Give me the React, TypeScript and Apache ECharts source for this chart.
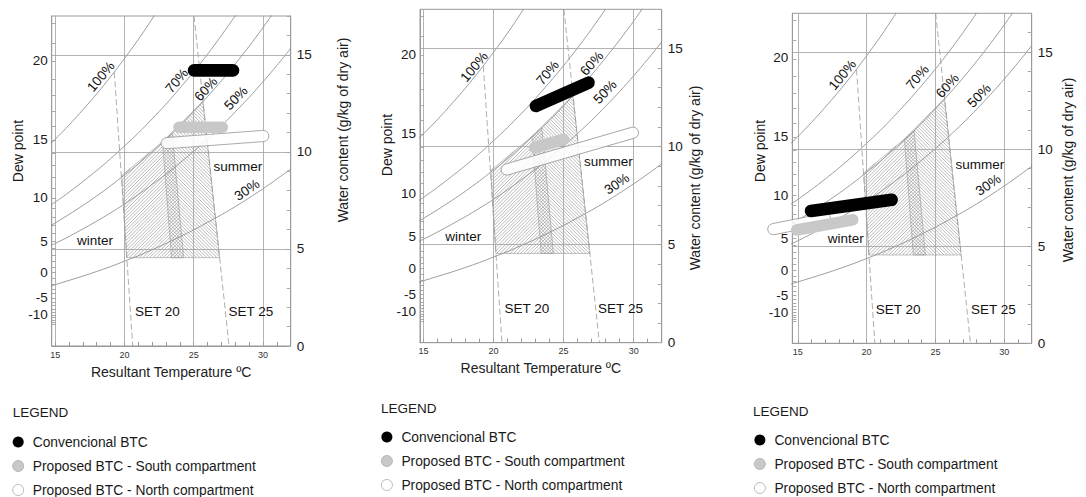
import React, { useEffect, useRef } from "react";
import * as echarts from "echarts";

// Dry-bulb (resultant) temperatures for the relative-humidity curves
const TEMPS = [14, 15, 16, 17, 18, 19, 20, 21, 22, 23, 24, 25, 26, 27, 28, 29, 30, 31, 32];
// Water content (g/kg dry air)
const RH100 = [9.96, 10.65, 11.38, 12.17, 12.99, 13.87, 14.81, 15.79, 16.85, 17.95];
const RH70 = [6.94, 7.41, 7.92, 8.47, 9.04, 9.65, 10.3, 10.97, 11.7, 12.46, 13.28, 14.13, 15.03, 16.0, 17.02, 18.08];
const RH60 = [5.94, 6.34, 6.78, 7.24, 7.73, 8.25, 8.81, 9.38, 10.0, 10.65, 11.34, 12.08, 12.85, 13.66, 14.53, 15.44, 16.4, 17.42];
const RH50 = [4.94, 5.28, 5.64, 6.03, 6.43, 6.86, 7.31, 7.8, 8.32, 8.85, 9.43, 10.03, 10.67, 11.34, 12.06, 12.81, 13.61, 14.45, 15.33];
const RH30 = [2.96, 3.16, 3.38, 3.6, 3.84, 4.09, 4.37, 4.65, 4.96, 5.28, 5.63, 5.98, 6.37, 6.76, 7.18, 7.63, 8.1, 8.6, 9.12];

// SET lines [T, W]
const SET20 = [[19.27, 14.1], [20.6, 0]];
const SET25 = [[25.02, 17], [27.55, 0]];

// Comfort zones [T, W]
const WINTER_ZONE = [[20.17, 4.55], [19.8, 8.78], [23.45, 10.94], [24.27, 4.55]];
const SUMMER_ZONE = [[23.4, 4.55], [22.75, 10.52], [25.66, 12.6], [26.87, 4.55]];

// Measured ranges [T1, W1, T2, W2]
const P1_CONV = [25.02, 14.2, 27.84, 14.2];
const P1_SOUTH = [23.93, 11.27, 27.07, 11.27];
const P1_NORTH = [23.05, 10.45, 30.02, 10.82];
const P2_CONV = [23.02, 12.07, 26.78, 13.26];
const P2_SOUTH = [22.92, 9.95, 25.0, 10.37];
const P2_NORTH = [20.94, 8.83, 29.95, 10.71];
const P3_CONV = [15.96, 6.82, 21.82, 7.39];
const P3_SOUTH = [14.92, 5.84, 18.99, 6.36];
const P3_NORTH = [13.22, 5.88, 16.98, 6.41];

// Dew point axis labels and where they fall on the water-content scale
const DEW_LABELS = ["20", "15", "10", "5", "0", "-5", "-10"];
const DEW_W = [14.7, 10.65, 7.63, 5.4, 3.77, 2.48, 1.6];

const X_LABELS = [15, 20, 25, 30];
const X_TICKS = [15, 16, 17, 18, 19, 20, 21, 22, 23, 24, 25, 26, 27, 28, 29, 30, 31, 32];
const W_LABELS = [0, 5, 10, 15];
const W_TICKS = [0, 1, 2, 3, 4, 5, 6, 7, 8, 9, 10, 11, 12, 13, 14, 15, 16, 17];
const GRID_X = [15, 20, 25, 30];
const GRID_Y = [5, 10, 15];

const NOTE_TEXTS = ["100%", "70%", "60%", "50%", "30%", "summer", "winter", "SET 20", "SET 25"];
const NOTE_ROT = [50, 50, 48, 46, 34, 0, 0, 0, 0];
const P1_NOTES = [[18.3, 13.88], [23.78, 13.67], [25.88, 13.24], [28.05, 12.77], [28.84, 8.04], [28.18, 9.24], [17.88, 5.42], [22.37, 1.77], [29.13, 1.77]];
const P2_NOTES = [[18.62, 14.07], [23.86, 13.77], [27.01, 14.24], [27.96, 12.79], [28.8, 8.1], [28.2, 9.25], [17.84, 5.42], [22.37, 1.76], [29.06, 1.76]];
const P3_NOTES = [[18.25, 13.83], [23.7, 13.7], [25.88, 13.27], [28.18, 12.76], [28.84, 8.16], [28.24, 9.19], [18.49, 5.41], [22.3, 1.76], [29.21, 1.76]];

const NAMES = ["Convencional BTC", "Proposed BTC - South compartment", "Proposed BTC - North compartment"];

const FONT = "'Liberation Sans', Arial, sans-serif";

function dewToW(td: number) {
  const es = td >= 0
    ? 0.6112 * Math.exp((17.62 * td) / (243.12 + td))
    : 0.6112 * Math.exp((22.46 * td) / (272.62 + td));
  return (622 * es) / (101.325 - es);
}
const DEW_TICKS: number[] = [];
for (let d = -14; d <= 22; d++) {
  const w = dewToW(d);
  if (w <= 17) DEW_TICKS.push(w);
}

const PANELS = [
  { left: 51.7, top: 16, width: 239, height: 330, xMin: 14.75, xName: true, nameGap: 19, dew: [18.3, 151], water: [342.5, 130], legend: [12.3, 435], legTitle: [12.7, 412],
    conv: P1_CONV, south: P1_SOUTH, north: P1_NORTH, notes: P1_NOTES },
  { left: 420, top: 9.3, width: 241.7, height: 333.4, xMin: 14.75, xName: true, nameGap: 18.5, dew: [387, 145], water: [695, 178], legend: [381, 430], legTitle: [381, 408],
    conv: P2_CONV, south: P2_SOUTH, north: P2_NORTH, notes: P2_NOTES },
  { left: 792.3, top: 13.3, width: 239.4, height: 330, xMin: 14.6, xName: false, nameGap: 19, dew: [759.5, 151], water: [1068, 170], legend: [754, 433], legTitle: [753, 411],
    conv: P3_CONV, south: P3_SOUTH, north: P3_NORTH, notes: P3_NOTES },
];

function hatch(pts: number[][], dir: number, gap: number) {
  const step = gap * Math.SQRT2;
  const v = (p: number[]) => p[0] + dir * p[1];
  let mn = Infinity;
  let mx = -Infinity;
  pts.forEach((p) => { mn = Math.min(mn, v(p)); mx = Math.max(mx, v(p)); });
  const out: any[] = [];
  for (let c = Math.ceil(mn / step) * step; c < mx; c += step) {
    const xs: number[][] = [];
    for (let i = 0; i < pts.length; i++) {
      const a = pts[i];
      const b = pts[(i + 1) % pts.length];
      const va = v(a) - c;
      const vb = v(b) - c;
      if ((va < 0) !== (vb < 0)) {
        const t = va / (va - vb);
        xs.push([a[0] + t * (b[0] - a[0]), a[1] + t * (b[1] - a[1])]);
      }
    }
    xs.sort((p, q) => p[0] - q[0]);
    for (let k = 0; k + 1 < xs.length; k += 2) {
      out.push({ type: "line", shape: { x1: xs[k][0], y1: xs[k][1], x2: xs[k + 1][0], y2: xs[k + 1][1] }, style: { stroke: "#8c8c8c", lineWidth: 0.6 } });
    }
  }
  return out;
}

function zoneSeries(k: number, zone: number[][], dir: number) {
  return {
    type: "custom",
    coordinateSystem: "cartesian2d",
    xAxisIndex: k,
    yAxisIndex: 2 * k + 1,
    silent: true,
    z: 3,
    data: zone,
    renderItem: (params: any, api: any) => {
      if (params.dataIndex !== 0) return null;
      const pts = zone.map((p) => api.coord(p));
      return {
        type: "group",
        children: [
          ...hatch(pts, dir, 2.4),
          { type: "polygon", shape: { points: pts }, style: { fill: "none", stroke: "#999", lineWidth: 0.6 } },
        ],
      };
    },
  };
}

function capsuleSeries(k: number, name: string, item: number[], r: number, fill: string, stroke: string) {
  return {
    type: "custom",
    name,
    coordinateSystem: "cartesian2d",
    xAxisIndex: k,
    yAxisIndex: 2 * k + 1,
    silent: true,
    clip: false,
    z: 5,
    data: [item],
    encode: { x: [0, 2], y: [1, 3] },
    renderItem: (params: any, api: any) => {
      const p1 = api.coord([api.value(0), api.value(1)]);
      const p2 = api.coord([api.value(2), api.value(3)]);
      const dx = p2[0] - p1[0];
      const dy = p2[1] - p1[1];
      const L = Math.hypot(dx, dy);
      const ang = Math.atan2(dy, dx);
      return {
        type: "rect",
        x: p1[0],
        y: p1[1],
        rotation: -ang,
        shape: { x: -r, y: -r, width: L + 2 * r, height: 2 * r, r },
        style: { fill, stroke, lineWidth: stroke === "none" ? 0 : 0.8 },
      };
    },
  };
}

function noteSeries(k: number, notes: number[][]) {
  return {
    type: "custom",
    coordinateSystem: "cartesian2d",
    xAxisIndex: k,
    yAxisIndex: 2 * k + 1,
    silent: true,
    clip: false,
    z: 6,
    data: notes,
    renderItem: (params: any, api: any) => {
      const i = params.dataIndex;
      const p = api.coord([api.value(0), api.value(1)]);
      return {
        type: "text",
        x: p[0],
        y: p[1],
        rotation: (NOTE_ROT[i] * Math.PI) / 180,
        style: { text: NOTE_TEXTS[i], font: `13.5px ${FONT}`, fill: "#111", align: "center", verticalAlign: "middle" },
      };
    },
  };
}

function curve(k: number, vals: number[], extra?: any) {
  return {
    type: "line",
    xAxisIndex: k,
    yAxisIndex: 2 * k + 1,
    silent: true,
    symbol: "none",
    smooth: 0.3,
    z: 2,
    lineStyle: { color: "#858585", width: 0.8 },
    data: vals.map((w, i) => [TEMPS[i], w]),
    ...(extra || {}),
  };
}

function setLine(k: number, pts: number[][]) {
  return {
    type: "line",
    xAxisIndex: k,
    yAxisIndex: 2 * k + 1,
    silent: true,
    symbol: "none",
    z: 4,
    lineStyle: { color: "#999", width: 0.8, type: [6, 3] },
    data: pts,
  };
}

function buildOption() {
  const grid: any[] = [];
  const xAxis: any[] = [];
  const yAxis: any[] = [];
  const series: any[] = [];
  const legend: any[] = [];
  const graphic: any[] = [];
  PANELS.forEach((P, k) => {
    grid.push({ left: P.left, top: P.top, width: P.width, height: P.height, show: true, borderColor: "#999", borderWidth: 1, backgroundColor: "transparent" });
    xAxis.push({
      type: "value", gridIndex: k, min: P.xMin, max: 32,
      name: P.xName ? "Resultant Temperature ºC" : "", nameLocation: "middle", nameGap: P.nameGap,
      nameTextStyle: { fontSize: 14, color: "#222", fontFamily: FONT },
      axisLine: { show: true, lineStyle: { color: "#999", width: 1 } },
      axisTick: { show: true, inside: true, length: 4, customValues: X_TICKS, lineStyle: { color: "#999" } },
      axisLabel: { customValues: X_LABELS, fontSize: 9, color: "#333", margin: 4, fontFamily: FONT },
      splitLine: { show: false },
    });
    yAxis.push({
      type: "value", gridIndex: k, position: "left", min: 0, max: 17,
      axisLine: { show: true, lineStyle: { color: "#999", width: 1 } },
      axisTick: { show: true, inside: true, length: 4, customValues: DEW_TICKS, lineStyle: { color: "#aaa" } },
      axisLabel: {
        customValues: DEW_W, fontSize: 13.5, color: "#1a1a1a", margin: 4, fontFamily: FONT,
        formatter: (v: number) => {
          const i = DEW_W.findIndex((w) => Math.abs(w - v) < 1e-6);
          return i >= 0 ? DEW_LABELS[i] : "";
        },
      },
      splitLine: { show: false },
    });
    yAxis.push({
      type: "value", gridIndex: k, position: "right", min: 0, max: 17,
      axisLine: { show: true, lineStyle: { color: "#999", width: 1 } },
      axisTick: { show: true, inside: true, length: 4, customValues: W_TICKS, lineStyle: { color: "#aaa" } },
      axisLabel: { customValues: W_LABELS, fontSize: 13.5, color: "#1a1a1a", margin: 6, fontFamily: FONT },
      splitLine: { show: false },
    });

    series.push(curve(k, RH100, {
      markLine: {
        silent: true, symbol: "none", label: { show: false },
        lineStyle: { color: "#a0a0a0", width: 0.8, type: "solid" },
        data: [...GRID_X.map((x) => ({ xAxis: x })), ...GRID_Y.map((y) => ({ yAxis: y }))],
      },
    }));
    series.push(curve(k, RH70));
    series.push(curve(k, RH60));
    series.push(curve(k, RH50));
    series.push(curve(k, RH30));
    series.push(zoneSeries(k, WINTER_ZONE, 1));
    series.push(zoneSeries(k, SUMMER_ZONE, -1));
    series.push(setLine(k, SET20));
    series.push(setLine(k, SET25));
    series.push(capsuleSeries(k, NAMES[2], P.north, 5.6, "rgba(255,255,255,0.85)", "#999"));
    series.push(capsuleSeries(k, NAMES[1], P.south, 5.8, "#c8c8c8", "none"));
    series.push(capsuleSeries(k, NAMES[0], P.conv, 6.3, "#000", "none"));
    series.push(noteSeries(k, P.notes));

    legend.push({
      orient: "vertical", left: P.legend[0], top: P.legend[1], padding: 0,
      itemWidth: 19, itemHeight: 11, itemGap: 10, icon: "circle", selectedMode: false,
      textStyle: { fontSize: 13.8, color: "#1a1a1a", fontFamily: FONT },
      data: [
        { name: NAMES[0], itemStyle: { color: "#000", borderWidth: 0 } },
        { name: NAMES[1], itemStyle: { color: "#c8c8c8", borderColor: "#aaa", borderWidth: 0.8 } },
        { name: NAMES[2], itemStyle: { color: "#fff", borderColor: "#aaa", borderWidth: 0.8 } },
      ],
    });

    graphic.push({ type: "text", x: P.dew[0], y: P.dew[1], rotation: Math.PI / 2, silent: true,
      style: { text: "Dew point", font: `14px ${FONT}`, fill: "#1a1a1a", align: "center", verticalAlign: "middle" } });
    graphic.push({ type: "text", x: P.water[0], y: P.water[1], rotation: Math.PI / 2, silent: true,
      style: { text: "Water content (g/kg of dry air)", font: `14px ${FONT}`, fill: "#1a1a1a", align: "center", verticalAlign: "middle" } });
    graphic.push({ type: "text", x: P.legTitle[0], y: P.legTitle[1], silent: true,
      style: { text: "LEGEND", font: `13.5px ${FONT}`, fill: "#1a1a1a", align: "left", verticalAlign: "middle" } });
  });

  return {
    animation: false,
    backgroundColor: "#fff",
    textStyle: { fontFamily: FONT },
    grid, xAxis, yAxis, series, legend, graphic,
  };
}

export default function App() {
  const ref = useRef<HTMLDivElement>(null);
  useEffect(() => {
    document.body.style.margin = "0";
    const chart = echarts.init(ref.current!, undefined, { renderer: "svg" });
    chart.setOption(buildOption() as any);
    return () => chart.dispose();
  }, []);
  return <div ref={ref} style={{ position: "absolute", left: 0, top: 0, width: 1086, height: 497 }} />;
}
